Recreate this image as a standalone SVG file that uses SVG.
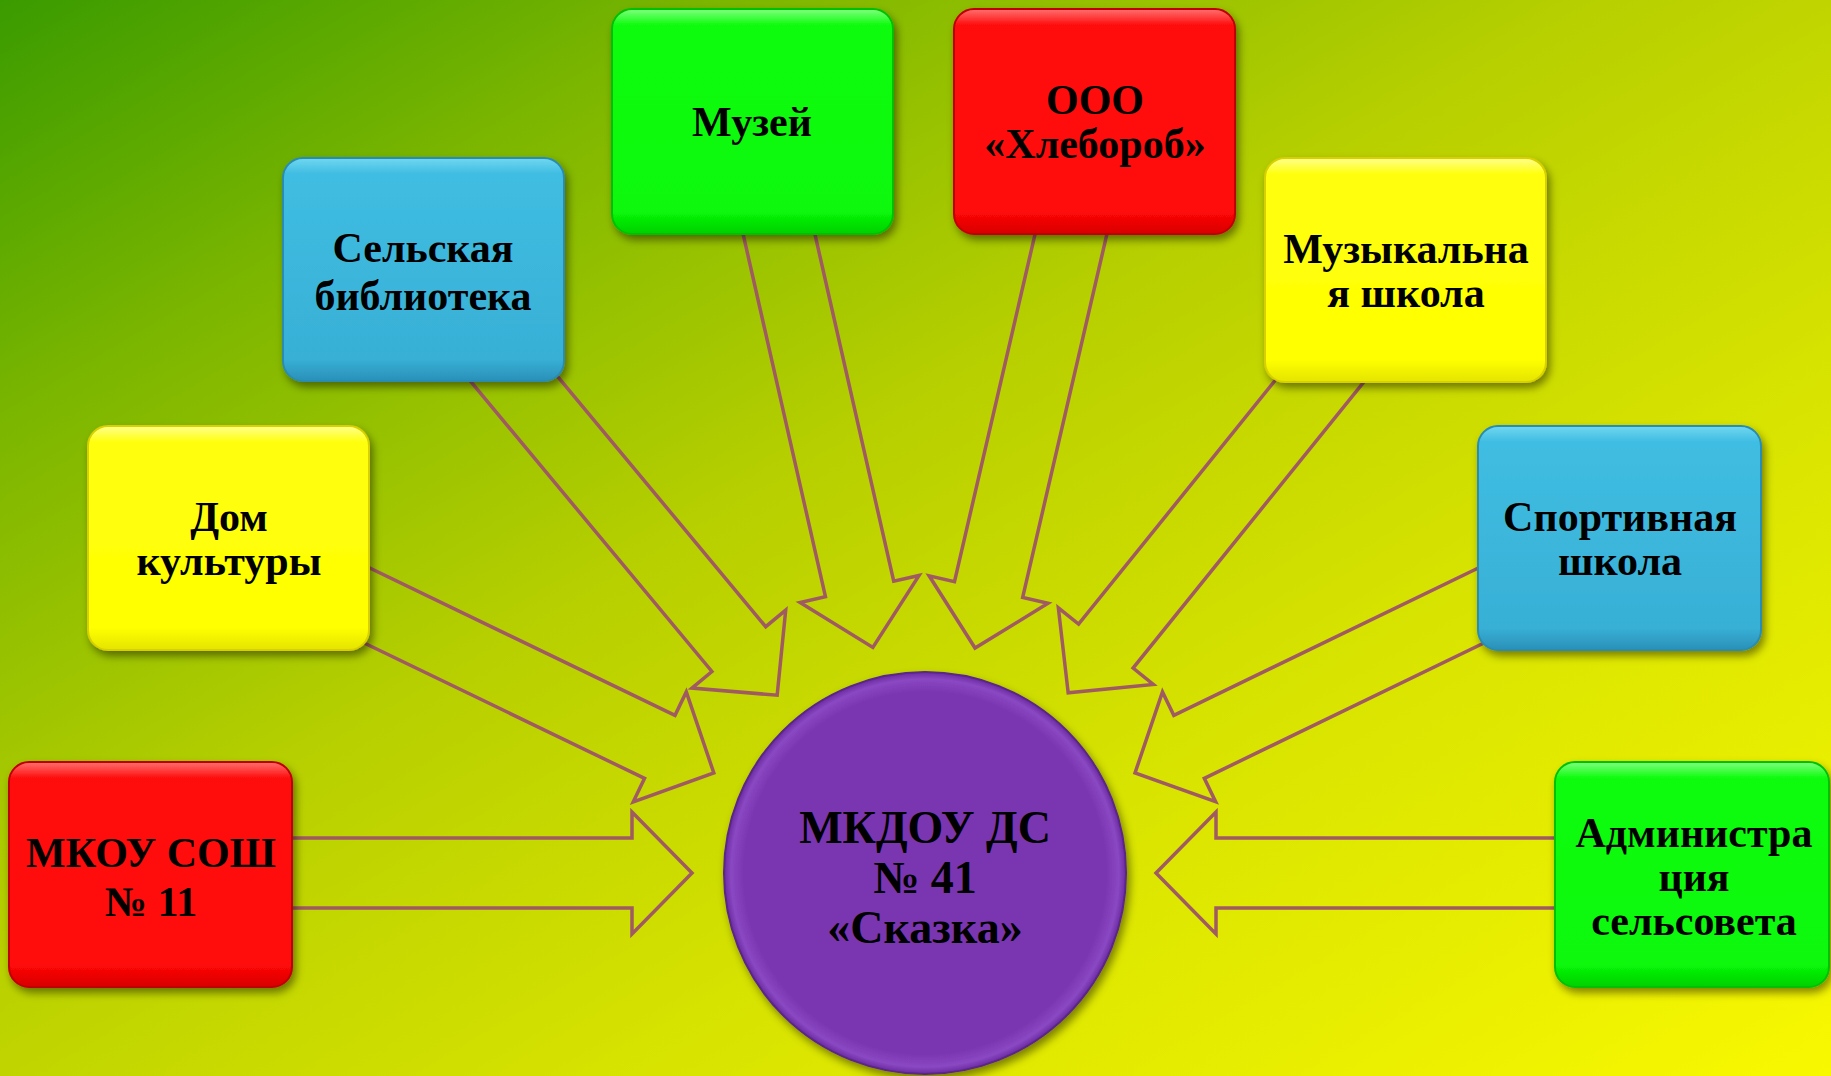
<svg xmlns="http://www.w3.org/2000/svg" width="1831" height="1076" viewBox="0 0 1831 1076">
  <defs>
    <linearGradient id="bg" gradientUnits="userSpaceOnUse" x1="0" y1="0" x2="940" y2="1600">
      <stop offset="0" stop-color="#3a9b00"/>
      <stop offset="0.2" stop-color="#7cb600"/>
      <stop offset="0.44" stop-color="#b8d000"/>
      <stop offset="0.66" stop-color="#d6e200"/>
      <stop offset="1" stop-color="#f8f800"/>
    </linearGradient>
    <linearGradient id="gYellow" x1="0" y1="0" x2="0" y2="1">
      <stop offset="0" stop-color="#ffff90"/>
      <stop offset="0.07" stop-color="#ffff10"/>
      <stop offset="0.9" stop-color="#ffff00"/>
      <stop offset="1" stop-color="#e4e400"/>
    </linearGradient>
    <linearGradient id="gBlue" x1="0" y1="0" x2="0" y2="1">
      <stop offset="0" stop-color="#70d8f0"/>
      <stop offset="0.07" stop-color="#40bde2"/>
      <stop offset="0.9" stop-color="#38b0d6"/>
      <stop offset="1" stop-color="#2a90b8"/>
    </linearGradient>
    <linearGradient id="gGreen" x1="0" y1="0" x2="0" y2="1">
      <stop offset="0" stop-color="#80ff80"/>
      <stop offset="0.07" stop-color="#10fc10"/>
      <stop offset="0.9" stop-color="#08f808"/>
      <stop offset="1" stop-color="#00d000"/>
    </linearGradient>
    <linearGradient id="gRed" x1="0" y1="0" x2="0" y2="1">
      <stop offset="0" stop-color="#ff7070"/>
      <stop offset="0.07" stop-color="#ff1010"/>
      <stop offset="0.9" stop-color="#ff0808"/>
      <stop offset="1" stop-color="#d80000"/>
    </linearGradient>
    <radialGradient id="gPurple" cx="0.5" cy="0.5" r="0.5">
      <stop offset="0" stop-color="#7a35b0"/>
      <stop offset="0.9" stop-color="#7a35b0"/>
      <stop offset="0.965" stop-color="#8a48c2"/>
      <stop offset="1" stop-color="#6a2aa0"/>
    </radialGradient>
    <filter id="shadow" x="-10%" y="-10%" width="125%" height="125%">
      <feDropShadow dx="3" dy="5" stdDeviation="4" flood-color="#000" flood-opacity="0.45"/>
    </filter>
    <style>
      .box { stroke-width: 2; filter: url(#shadow); }
      .yellow { fill: url(#gYellow); stroke: #d8d000; }
      .blue { fill: url(#gBlue); stroke: #2a8cb0; }
      .green { fill: url(#gGreen); stroke: #00c000; }
      .red { fill: url(#gRed); stroke: #c00000; }
      .lbl { font-family: "Liberation Serif", "Times New Roman", serif; font-weight: bold; font-size: 42px; fill: #000; text-anchor: middle; }
      .big { font-size: 46px; }
      .arrow { fill: none; stroke: #a05a62; stroke-width: 3.5; stroke-linejoin: miter; }
    </style>
  </defs>

  <rect x="0" y="0" width="1831" height="1076" fill="url(#bg)"/>

  <g id="connectors">
    <!-- МКОУ СОШ -> center -->
    <path class="arrow" transform="translate(292,873) rotate(0)" d="M-50,-35 L340,-35 L340,-61 L400,0 L340,61 L340,35 L-50,35"/>
    <!-- Дом культуры -->
    <path class="arrow" transform="translate(368,606) rotate(25.77)" d="M-50,-35 L324,-35 L324,-61 L384,0 L324,61 L324,35 L-50,35"/>
    <!-- Сельская библиотека -->
    <path class="arrow" transform="translate(515,380) rotate(50.25)" d="M-50,-35 L350,-35 L350,-61 L410,0 L350,61 L350,35 L-50,35"/>
    <!-- Музей -->
    <path class="arrow" transform="translate(779,234) rotate(77.21)" d="M-50,-35 L364,-35 L364,-61 L424,0 L364,61 L364,35 L-50,35"/>
    <!-- ООО Хлебороб -->
    <path class="arrow" transform="translate(1071,234) rotate(103.05)" d="M-50,-35 L365,-35 L365,-61 L425,0 L365,61 L365,35 L-50,35"/>
    <!-- Музыкальная школа -->
    <path class="arrow" transform="translate(1318,383) rotate(128.88)" d="M-50,-35 L338,-35 L338,-61 L398,0 L338,61 L338,35 L-50,35"/>
    <!-- Спортивная школа -->
    <path class="arrow" transform="translate(1478,607) rotate(154.18)" d="M-50,-35 L321,-35 L321,-61 L381,0 L321,61 L321,35 L-50,35"/>
    <!-- Администрация -->
    <path class="arrow" transform="translate(1555,873) rotate(180)" d="M-50,-35 L339,-35 L339,-61 L399,0 L339,61 L339,35 L-50,35"/>
  </g>

  <g id="center">
    <circle cx="925" cy="873" r="201" fill="url(#gPurple)" stroke="#5a2588" stroke-width="2" filter="url(#shadow)"/>
    <text class="lbl big" x="925" y="843">МКДОУ ДС</text>
    <text class="lbl big" x="925" y="893">№ 41</text>
    <text class="lbl big" x="925" y="943">«Сказка»</text>
  </g>

  <g id="node-dom-kultury">
    <rect class="box yellow" x="88" y="426" width="281" height="224" rx="20"/>
    <text class="lbl" x="229" y="531">Дом</text>
    <text class="lbl" x="229" y="575">культуры</text>
  </g>

  <g id="node-biblioteka">
    <rect class="box blue" x="283" y="158" width="281" height="223" rx="20"/>
    <text class="lbl" x="423" y="262">Сельская</text>
    <text class="lbl" x="423" y="310">библиотека</text>
  </g>

  <g id="node-muzey">
    <rect class="box green" x="612" y="9" width="281" height="225" rx="20"/>
    <text class="lbl" x="752" y="136">Музей</text>
  </g>

  <g id="node-khleborob">
    <rect class="box red" x="954" y="9" width="281" height="225" rx="20"/>
    <text class="lbl" x="1095" y="114">ООО</text>
    <text class="lbl" x="1095" y="158">«Хлебороб»</text>
  </g>

  <g id="node-muz-shkola">
    <rect class="box yellow" x="1265" y="158" width="281" height="224" rx="20"/>
    <text class="lbl" x="1406" y="263">Музыкальна</text>
    <text class="lbl" x="1406" y="307">я школа</text>
  </g>

  <g id="node-sport-shkola">
    <rect class="box blue" x="1478" y="426" width="283" height="224" rx="20"/>
    <text class="lbl" x="1620" y="531">Спортивная</text>
    <text class="lbl" x="1620" y="575">школа</text>
  </g>

  <g id="node-administratsiya">
    <rect class="box green" x="1555" y="762" width="274" height="225" rx="20"/>
    <text class="lbl" x="1694" y="847">Администра</text>
    <text class="lbl" x="1694" y="891">ция</text>
    <text class="lbl" x="1694" y="935">сельсовета</text>
  </g>

  <g id="node-mkou-sosh">
    <rect class="box red" x="9" y="762" width="283" height="225" rx="20"/>
    <text class="lbl" x="151" y="867">МКОУ СОШ</text>
    <text class="lbl" x="151" y="916">№ 11</text>
  </g>
</svg>
